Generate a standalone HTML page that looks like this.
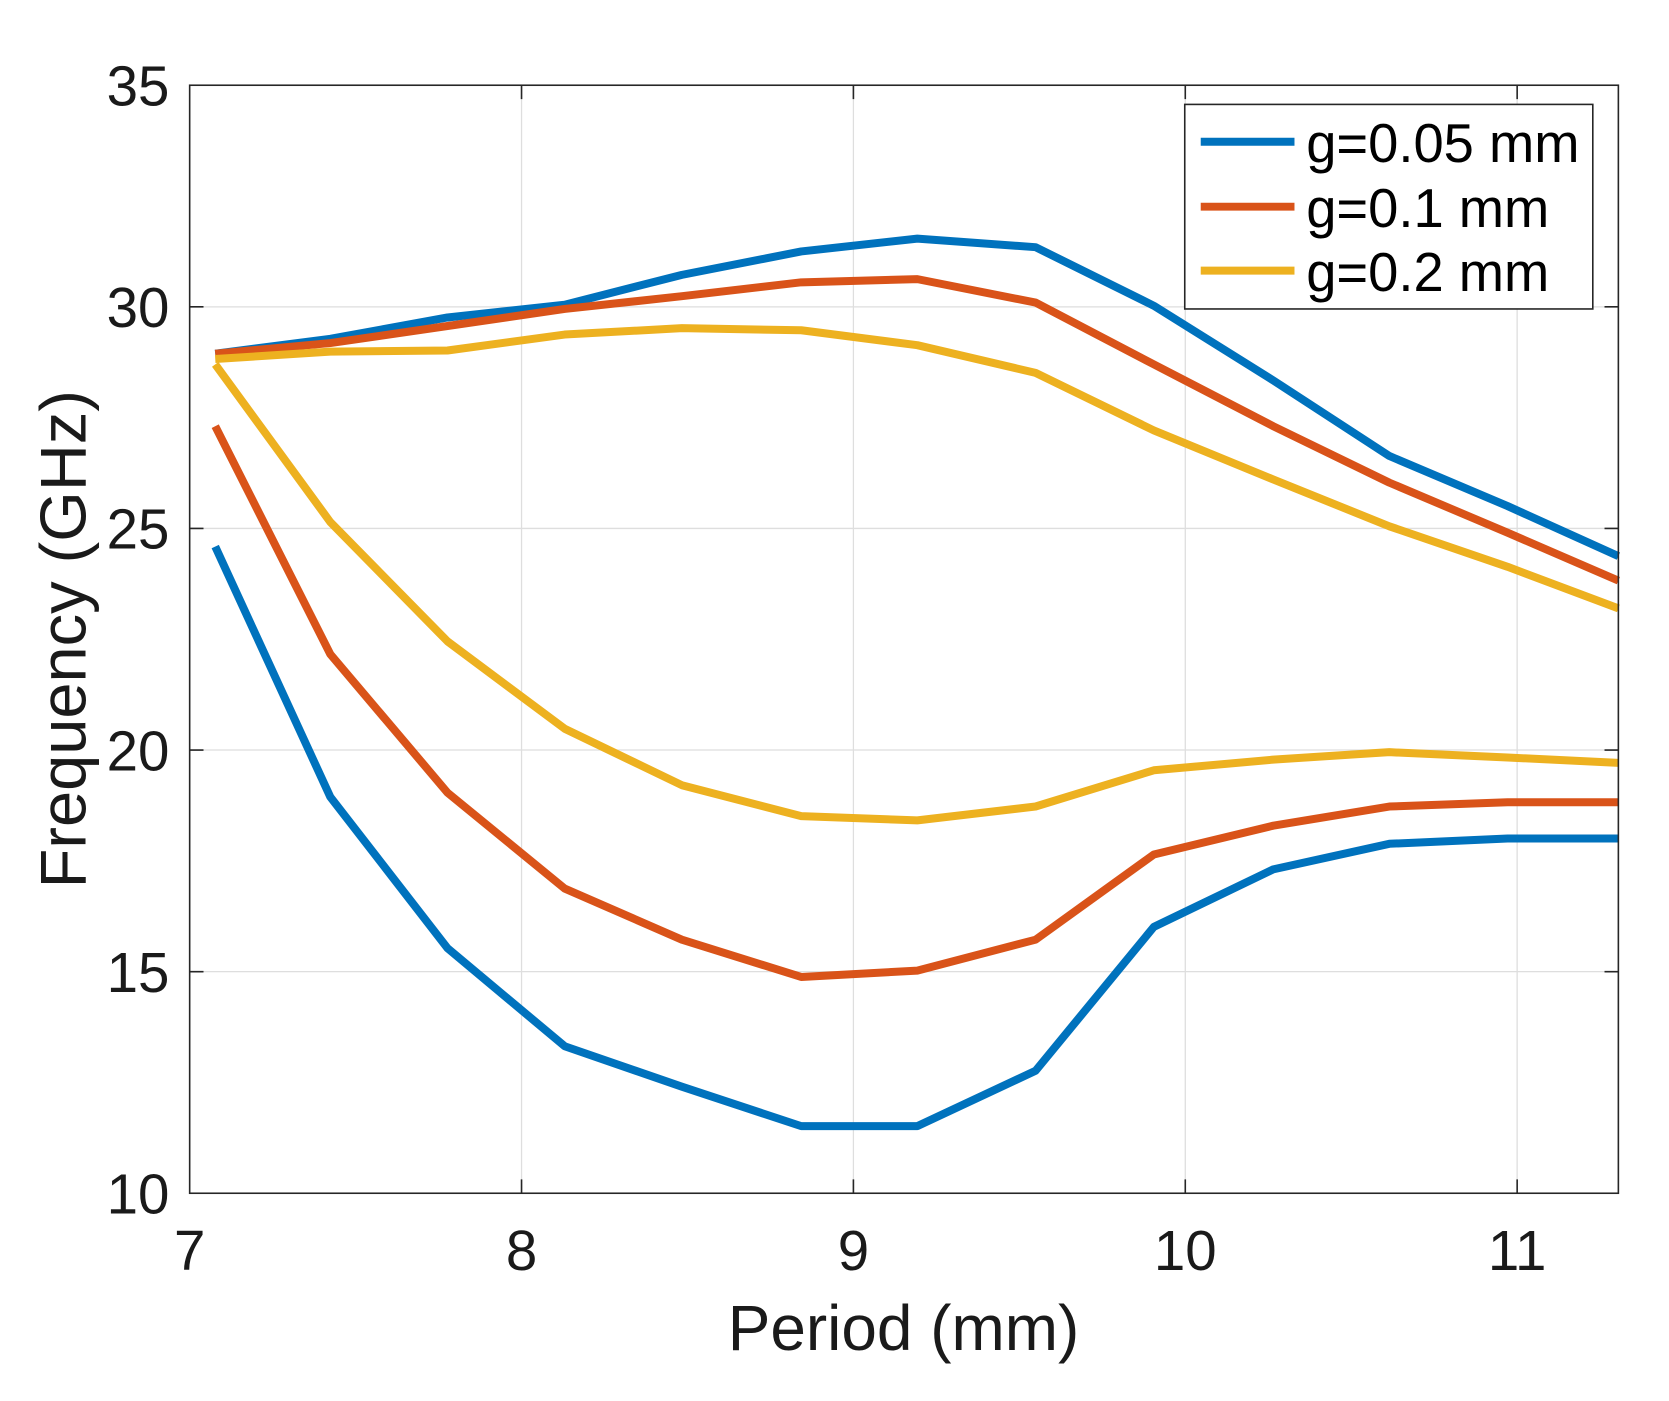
<!DOCTYPE html>
<html><head><meta charset="utf-8"><style>
html,body{margin:0;padding:0;background:#fff;}
svg{display:block;}
text{font-family:"Liberation Sans",Arial,sans-serif;fill:#1a1a1a;}
</style></head><body>
<svg width="1669" height="1401" viewBox="0 0 1566.5 1315" xmlns="http://www.w3.org/2000/svg">
<rect width="1566.5" height="1315" fill="#fff"/>
<g stroke="#dedede" stroke-width="1.2">
<line x1="489.5" y1="80" x2="489.5" y2="1120"/>
<line x1="801" y1="80" x2="801" y2="1120"/>
<line x1="1112.5" y1="80" x2="1112.5" y2="1120"/>
<line x1="1424" y1="80" x2="1424" y2="1120"/>
<line x1="178" y1="288" x2="1519" y2="288"/>
<line x1="178" y1="496" x2="1519" y2="496"/>
<line x1="178" y1="704" x2="1519" y2="704"/>
<line x1="178" y1="912" x2="1519" y2="912"/>
</g>
<g stroke="#262626" stroke-width="1.5">
<path d="M489.5,1120v-13M801,1120v-13M1112.5,1120v-13M1424,1120v-13M489.5,80v13M801,80v13M1112.5,80v13M1424,80v13"/>
<path d="M178,288h13M178,496h13M178,704h13M178,912h13M1519,288h-13M1519,496h-13M1519,704h-13M1519,912h-13"/>
</g>
<g fill="none" stroke-width="7.5" stroke-linejoin="round">
<polyline stroke="#0072BD" points="202,332 310,318 420,298 530,286 640,258 752,236 861,224 972,232 1083,287 1195,357 1304,428 1415,475 1519,522"/>
<polyline stroke="#0072BD" points="202,513 310,748 420,890 530,982 640,1020 752,1057 861,1057 972,1005 1083,870 1195,816 1304,792 1415,787 1519,787"/>
<polyline stroke="#D95319" points="202,332 310,322 420,306 530,290 640,278 752,265 861,262 972,284 1083,342 1195,400 1304,453 1415,500 1519,545"/>
<polyline stroke="#D95319" points="202,400 310,614 420,744 530,834 640,882 752,917 861,911 972,882 1083,802 1195,775 1304,757 1415,753 1519,753"/>
<polyline stroke="#EDB120" points="202,337 310,330 420,329 530,314 640,308 752,310 861,324 972,350 1083,404 1195,450 1304,494 1415,532 1519,571"/>
<polyline stroke="#EDB120" points="202,342 310,490 420,602 530,684 640,737 752,766 861,770 972,757 1083,723 1195,713 1304,706 1415,711 1519,716"/>
</g>
<rect x="178" y="80" width="1341" height="1040" fill="none" stroke="#262626" stroke-width="1.5"/>
<g font-size="53" text-anchor="end">
<text x="159" y="99">35</text>
<text x="159" y="307">30</text>
<text x="159" y="515">25</text>
<text x="159" y="723">20</text>
<text x="159" y="931">15</text>
<text x="159" y="1139">10</text>
</g>
<g font-size="53" text-anchor="middle">
<text x="178" y="1192">7</text>
<text x="489.5" y="1192">8</text>
<text x="801" y="1192">9</text>
<text x="1112.5" y="1192">10</text>
<text x="1424" y="1192">11</text>
</g>
<text x="848" y="1267" font-size="60" text-anchor="middle">Period (mm)</text>
<text transform="translate(80,600) rotate(-90)" font-size="61" text-anchor="middle">Frequency (GHz)</text>
<rect x="1112" y="98" width="383" height="192" fill="#fff" stroke="#262626" stroke-width="1.5"/>
<g stroke-width="7.5">
<line x1="1127" y1="133" x2="1215" y2="133" stroke="#0072BD"/>
<line x1="1127" y1="194" x2="1215" y2="194" stroke="#D95319"/>
<line x1="1127" y1="254" x2="1215" y2="254" stroke="#EDB120"/>
</g>
<g font-size="51">
<text x="1226" y="152" style="fill:#000">g=0.05 mm</text>
<text x="1226" y="213" style="fill:#000">g=0.1 mm</text>
<text x="1226" y="273" style="fill:#000">g=0.2 mm</text>
</g>
</svg>
</body></html>
